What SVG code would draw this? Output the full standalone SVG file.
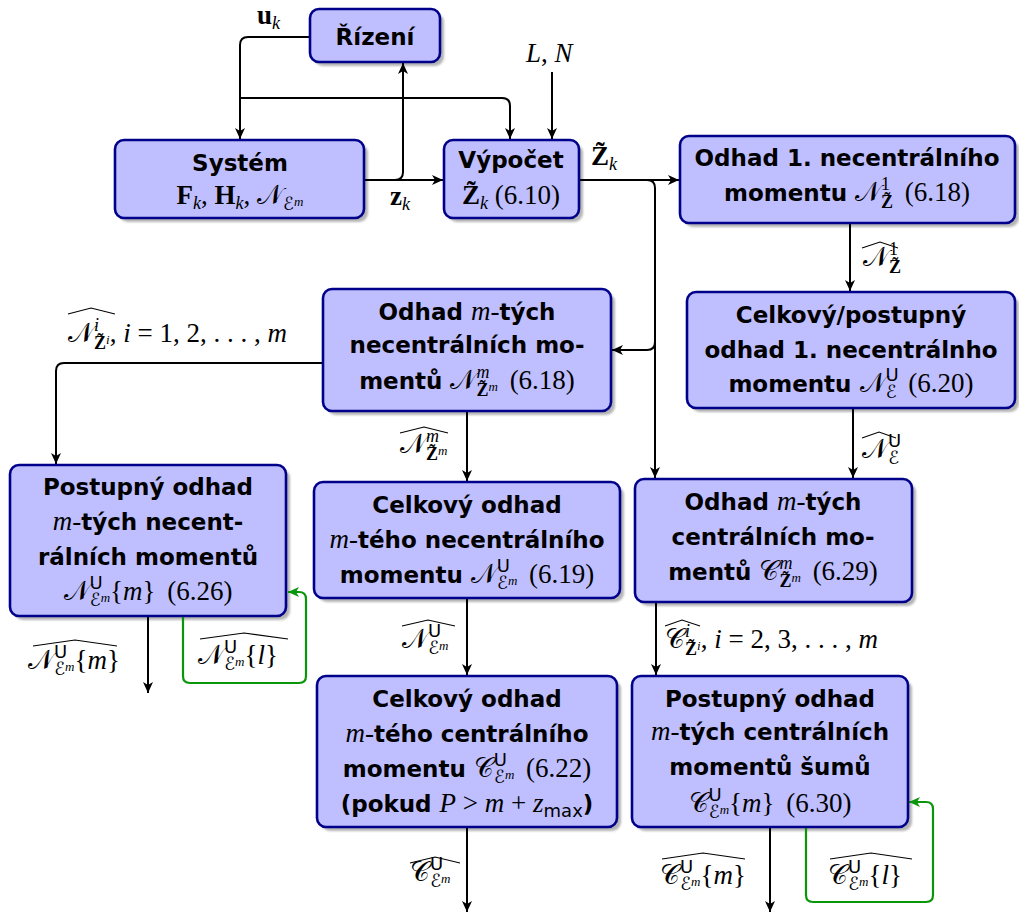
<svg xmlns="http://www.w3.org/2000/svg" width="1019" height="916" viewBox="0 0 1019 916">
<style>
.box{fill:#bfbfff;stroke:#00008b;stroke-width:2.6}
.sh{fill:#b4b4b4}
.ln{fill:none;stroke:#000;stroke-width:2}
.gn{fill:none;stroke:#0a960a;stroke-width:2.2}
.hat{fill:none;stroke:#000;stroke-width:1.1}
.t{font-family:"Liberation Serif",serif;font-size:27px;fill:#000}
.c{text-anchor:middle}
.b{font-family:"DejaVu Sans",sans-serif;font-weight:bold;font-size:23px}
.i{font-style:italic}
.bf{font-weight:bold}
.cal{font-family:"DejaVu Serif","DejaVu Sans",serif;font-style:normal}
.sc{font-size:18px}
.ss{font-size:13px}
.sf{font-family:"DejaVu Sans",sans-serif;font-weight:normal}
</style>
<defs>
<filter id="blur" x="-5%" y="-5%" width="110%" height="110%"><feGaussianBlur stdDeviation="1.2"/></filter>
<marker id="ab" markerUnits="userSpaceOnUse" markerWidth="14" markerHeight="12" viewBox="0 -6 12 12" refX="11" refY="0" orient="auto"><path d="M0,-5 L11,0 L0,5 L3,0 Z" fill="#000"/></marker>
<marker id="ag" markerUnits="userSpaceOnUse" markerWidth="14" markerHeight="12" viewBox="0 -6 12 12" refX="11" refY="0" orient="auto"><path d="M0,-5 L11,0 L0,5 L3,0 Z" fill="#0a960a"/></marker>
</defs>

<g id="shadows" filter="url(#blur)">
<rect class="sh" x="314" y="13" width="130" height="53" rx="9"/>
<rect class="sh" x="119" y="144" width="249" height="78" rx="9"/>
<rect class="sh" x="448" y="144" width="135" height="78" rx="9"/>
<rect class="sh" x="684" y="140" width="335" height="87" rx="9"/>
<rect class="sh" x="691" y="296" width="328" height="116" rx="9"/>
<rect class="sh" x="327" y="293" width="288" height="122" rx="9"/>
<rect class="sh" x="14" y="469" width="276" height="151" rx="9"/>
<rect class="sh" x="318" y="486" width="306" height="116" rx="9"/>
<rect class="sh" x="639" y="483" width="277" height="123" rx="9"/>
<rect class="sh" x="321" y="680" width="300" height="151" rx="9"/>
<rect class="sh" x="636" y="680" width="276" height="151" rx="9"/>
</g>

<g id="connectors">
<path class="ln" d="M310,37 H248 Q240,37 240,45 V139" marker-end="url(#ab)"/>
<path class="ln" d="M240,98 H502 Q510,98 510,106 V139" marker-end="url(#ab)"/>
<path class="ln" d="M364,180 H443" marker-end="url(#ab)"/>
<path class="ln" d="M395,180 Q403,180 403,172 V63" marker-end="url(#ab)"/>
<path class="ln" d="M552,72 V139" marker-end="url(#ab)"/>
<path class="ln" d="M579,180 H679" marker-end="url(#ab)"/>
<path class="ln" d="M647,180 Q655,180 655,188 V478" marker-end="url(#ab)"/>
<path class="ln" d="M655,342 Q655,350 647,350 H612" marker-end="url(#ab)"/>
<path class="ln" d="M850,223 V291" marker-end="url(#ab)"/>
<path class="ln" d="M853,408 V478" marker-end="url(#ab)"/>
<path class="ln" d="M323,363 H64 Q56,363 56,371 V464" marker-end="url(#ab)"/>
<path class="ln" d="M467,411 V481" marker-end="url(#ab)"/>
<path class="ln" d="M467,598 V675" marker-end="url(#ab)"/>
<path class="ln" d="M467,827 V912" marker-end="url(#ab)"/>
<path class="ln" d="M148,616 V693" marker-end="url(#ab)"/>
<path class="gn" d="M183,616 V676 Q183,683 190,683 H299 Q306,683 306,676 V599 Q306,592 299,592 H288" marker-end="url(#ag)"/>
<path class="ln" d="M656,602 V675" marker-end="url(#ab)"/>
<path class="ln" d="M770,827 V912" marker-end="url(#ab)"/>
<path class="gn" d="M806,827 V895 Q806,902 813,902 H926 Q933,902 933,895 V809 Q933,802 926,802 H909" marker-end="url(#ag)"/>
</g>

<g id="labels">
<text class="t" x="257" y="24"><tspan class="bf">u</tspan><tspan class="i sc" baseline-shift="-5">k</tspan></text>
<text class="t" x="390" y="205"><tspan class="bf">z</tspan><tspan class="i sc" baseline-shift="-5">k</tspan></text>
<text class="t" x="526" y="62"><tspan class="i">L</tspan>, <tspan class="i">N</tspan></text>
<text class="t" x="591" y="165"><tspan class="bf">Z̃</tspan><tspan class="i sc" baseline-shift="-5">k</tspan></text>

<text class="t" x="863" y="266"><tspan class="cal">𝒩</tspan><tspan class="sc" baseline-shift="11">1</tspan><tspan class="sc bf" dx="-9" baseline-shift="-7">Z̃</tspan></text>
<polyline class="hat" points="862,248 880,242 898,248"/>
<text class="t" x="862" y="458"><tspan class="cal">𝒩</tspan><tspan class="sf sc" baseline-shift="11">U</tspan><tspan class="cal sc" dx="-13" baseline-shift="-6">ℰ</tspan></text>
<polyline class="hat" points="862,438 879,432 896,438"/>

<text class="t" x="68" y="342"><tspan class="cal">𝒩</tspan><tspan class="i sc" baseline-shift="11">i</tspan><tspan class="sc bf" dx="-5" baseline-shift="-7">Z̃</tspan><tspan class="i ss" baseline-shift="-2">i</tspan>, <tspan class="i">i</tspan> = 1, 2, . . . , <tspan class="i">m</tspan></text>
<polyline class="hat" points="68,314 91,308 115,314"/>

<text class="t" x="400" y="453"><tspan class="cal">𝒩</tspan><tspan class="i sc" baseline-shift="11">m</tspan><tspan class="sc bf" dx="-13" baseline-shift="-7">Z̃</tspan><tspan class="i ss" baseline-shift="-2">m</tspan></text>
<polyline class="hat" points="400,433 424,427 448,433"/>

<text class="t" x="402" y="648"><tspan class="cal">𝒩</tspan><tspan class="sf sc" baseline-shift="11">U</tspan><tspan class="cal sc" dx="-13" baseline-shift="-6">ℰ</tspan><tspan class="i ss" baseline-shift="-2">m</tspan></text>
<polyline class="hat" points="402,626 428,620 455,626"/>

<text class="t" x="410" y="881"><tspan class="cal">𝒞</tspan><tspan class="sf sc" baseline-shift="11">U</tspan><tspan class="cal sc" dx="-13" baseline-shift="-6">ℰ</tspan><tspan class="i ss" baseline-shift="-2">m</tspan></text>
<polyline class="hat" points="410,863 435,857 460,863"/>

<text class="t" x="28" y="669"><tspan class="cal">𝒩</tspan><tspan class="sf sc" baseline-shift="11">U</tspan><tspan class="cal sc" dx="-13" baseline-shift="-6">ℰ</tspan><tspan class="i ss" baseline-shift="-2">m</tspan>{<tspan class="i">m</tspan>}</text>
<polyline class="hat" points="33,646 75,640 117,646"/>

<text class="t" x="198" y="664"><tspan class="cal">𝒩</tspan><tspan class="sf sc" baseline-shift="11">U</tspan><tspan class="cal sc" dx="-13" baseline-shift="-6">ℰ</tspan><tspan class="i ss" baseline-shift="-2">m</tspan>{<tspan class="i">l</tspan>}</text>
<polyline class="hat" points="200,639 244,633 288,639"/>

<text class="t" x="665" y="648"><tspan class="cal">𝒞</tspan><tspan class="i sc" baseline-shift="11">i</tspan><tspan class="sc bf" dx="-5" baseline-shift="-7">Z̃</tspan><tspan class="i ss" baseline-shift="-2">i</tspan>, <tspan class="i">i</tspan> = 2, 3, . . . , <tspan class="i">m</tspan></text>
<polyline class="hat" points="665,626 682,620 700,626"/>

<text class="t" x="660" y="884"><tspan class="cal">𝒞</tspan><tspan class="sf sc" baseline-shift="11">U</tspan><tspan class="cal sc" dx="-13" baseline-shift="-6">ℰ</tspan><tspan class="i ss" baseline-shift="-2">m</tspan>{<tspan class="i">m</tspan>}</text>
<polyline class="hat" points="662,859 703,853 745,859"/>

<text class="t" x="828" y="884"><tspan class="cal">𝒞</tspan><tspan class="sf sc" baseline-shift="11">U</tspan><tspan class="cal sc" dx="-13" baseline-shift="-6">ℰ</tspan><tspan class="i ss" baseline-shift="-2">m</tspan>{<tspan class="i">l</tspan>}</text>
<polyline class="hat" points="830,859 871,853 912,859"/>
</g>

<g id="rizeni">
<rect class="box" x="310" y="9" width="130" height="53" rx="9"/>
<text class="t c" x="375" y="45"><tspan class="b">Řízení</tspan></text>
</g>

<g id="system">
<rect class="box" x="115" y="140" width="249" height="78" rx="9"/>
<text class="t c" x="240" y="171"><tspan class="b">Systém</tspan></text>
<text class="t c" x="240" y="204"><tspan class="bf">F</tspan><tspan class="i sc" baseline-shift="-5">k</tspan>, <tspan class="bf">H</tspan><tspan class="i sc" baseline-shift="-5">k</tspan>, <tspan class="cal">𝒩</tspan><tspan class="cal sc" baseline-shift="-6">ℰ</tspan><tspan class="i ss" baseline-shift="-2">m</tspan></text>
</g>

<g id="vypocet">
<rect class="box" x="444" y="140" width="135" height="78" rx="9"/>
<text class="t c" x="511" y="168"><tspan class="b">Výpočet</tspan></text>
<text class="t c" x="511" y="204"><tspan class="bf">Z̃</tspan><tspan class="i sc" baseline-shift="-5">k</tspan> (6.10)</text>
</g>

<g id="odhad1">
<rect class="box" x="680" y="136" width="335" height="87" rx="9"/>
<text class="t c" x="847" y="166"><tspan class="b">Odhad 1. necentrálního</tspan></text>
<text class="t c" x="847" y="201"><tspan class="b">momentu </tspan><tspan class="cal">𝒩</tspan><tspan class="sc" baseline-shift="11">1</tspan><tspan class="sc bf" dx="-9" baseline-shift="-7">Z̃</tspan><tspan dx="5"> (6.18)</tspan></text>
</g>

<g id="celkpost">
<rect class="box" x="687" y="292" width="328" height="116" rx="9"/>
<text class="t c" x="851" y="323"><tspan class="b">Celkový/postupný</tspan></text>
<text class="t c" x="851" y="358"><tspan class="b">odhad 1. necentrálnho</tspan></text>
<text class="t c" x="851" y="392"><tspan class="b">momentu </tspan><tspan class="cal">𝒩</tspan><tspan class="sf sc" baseline-shift="11">U</tspan><tspan class="cal sc" dx="-13" baseline-shift="-6">ℰ</tspan><tspan dx="5"> (6.20)</tspan></text>
</g>

<g id="odhadmN">
<rect class="box" x="323" y="289" width="288" height="122" rx="9"/>
<text class="t c" x="467" y="320"><tspan class="b">Odhad </tspan><tspan class="i">m</tspan>-<tspan class="b">tých</tspan></text>
<text class="t c" x="467" y="353"><tspan class="b">necentrálních mo-</tspan></text>
<text class="t c" x="467" y="389"><tspan class="b">mentů </tspan><tspan class="cal">𝒩</tspan><tspan class="i sc" baseline-shift="11">m</tspan><tspan class="sc bf" dx="-13" baseline-shift="-7">Z̃</tspan><tspan class="i ss" baseline-shift="-2">m</tspan><tspan dx="5"> (6.18)</tspan></text>
</g>

<g id="postN">
<rect class="box" x="10" y="465" width="276" height="151" rx="9"/>
<text class="t c" x="148" y="495"><tspan class="b">Postupný odhad</tspan></text>
<text class="t c" x="148" y="530"><tspan class="i">m</tspan>-<tspan class="b">tých necent-</tspan></text>
<text class="t c" x="148" y="565"><tspan class="b">rálních momentů</tspan></text>
<text class="t c" x="148" y="600"><tspan class="cal">𝒩</tspan><tspan class="sf sc" baseline-shift="11">U</tspan><tspan class="cal sc" dx="-13" baseline-shift="-6">ℰ</tspan><tspan class="i ss" baseline-shift="-2">m</tspan>{<tspan class="i">m</tspan>}<tspan dx="5"> (6.26)</tspan></text>
</g>

<g id="celkN">
<rect class="box" x="314" y="482" width="306" height="116" rx="9"/>
<text class="t c" x="467" y="513"><tspan class="b">Celkový odhad</tspan></text>
<text class="t c" x="467" y="548"><tspan class="i">m</tspan>-<tspan class="b">tého necentrálního</tspan></text>
<text class="t c" x="467" y="583"><tspan class="b">momentu </tspan><tspan class="cal">𝒩</tspan><tspan class="sf sc" baseline-shift="11">U</tspan><tspan class="cal sc" dx="-13" baseline-shift="-6">ℰ</tspan><tspan class="i ss" baseline-shift="-2">m</tspan><tspan dx="5"> (6.19)</tspan></text>
</g>

<g id="odhadmC">
<rect class="box" x="635" y="479" width="277" height="123" rx="9"/>
<text class="t c" x="773" y="510"><tspan class="b">Odhad </tspan><tspan class="i">m</tspan>-<tspan class="b">tých</tspan></text>
<text class="t c" x="773" y="545"><tspan class="b">centrálních mo-</tspan></text>
<text class="t c" x="773" y="580"><tspan class="b">mentů </tspan><tspan class="cal">𝒞</tspan><tspan class="i sc" baseline-shift="11">m</tspan><tspan class="sc bf" dx="-13" baseline-shift="-7">Z̃</tspan><tspan class="i ss" baseline-shift="-2">m</tspan><tspan dx="5"> (6.29)</tspan></text>
</g>

<g id="celkC">
<rect class="box" x="317" y="676" width="300" height="151" rx="9"/>
<text class="t c" x="467" y="707"><tspan class="b">Celkový odhad</tspan></text>
<text class="t c" x="467" y="742"><tspan class="i">m</tspan>-<tspan class="b">tého centrálního</tspan></text>
<text class="t c" x="467" y="777"><tspan class="b">momentu </tspan><tspan class="cal">𝒞</tspan><tspan class="sf sc" baseline-shift="11">U</tspan><tspan class="cal sc" dx="-13" baseline-shift="-6">ℰ</tspan><tspan class="i ss" baseline-shift="-2">m</tspan><tspan dx="5"> (6.22)</tspan></text>
<text class="t c" x="467" y="812"><tspan class="b">(pokud </tspan><tspan class="i">P</tspan> &gt; <tspan class="i">m</tspan> + <tspan class="i">z</tspan><tspan class="sf sc" baseline-shift="-5">max</tspan><tspan class="b">)</tspan></text>
</g>

<g id="postC">
<rect class="box" x="632" y="676" width="276" height="151" rx="9"/>
<text class="t c" x="770" y="707"><tspan class="b">Postupný odhad</tspan></text>
<text class="t c" x="770" y="740"><tspan class="i">m</tspan>-<tspan class="b">tých centrálních</tspan></text>
<text class="t c" x="770" y="775"><tspan class="b">momentů šumů</tspan></text>
<text class="t c" x="770" y="812"><tspan class="cal">𝒞</tspan><tspan class="sf sc" baseline-shift="11">U</tspan><tspan class="cal sc" dx="-13" baseline-shift="-6">ℰ</tspan><tspan class="i ss" baseline-shift="-2">m</tspan>{<tspan class="i">m</tspan>}<tspan dx="5"> (6.30)</tspan></text>
</g>
</svg>
